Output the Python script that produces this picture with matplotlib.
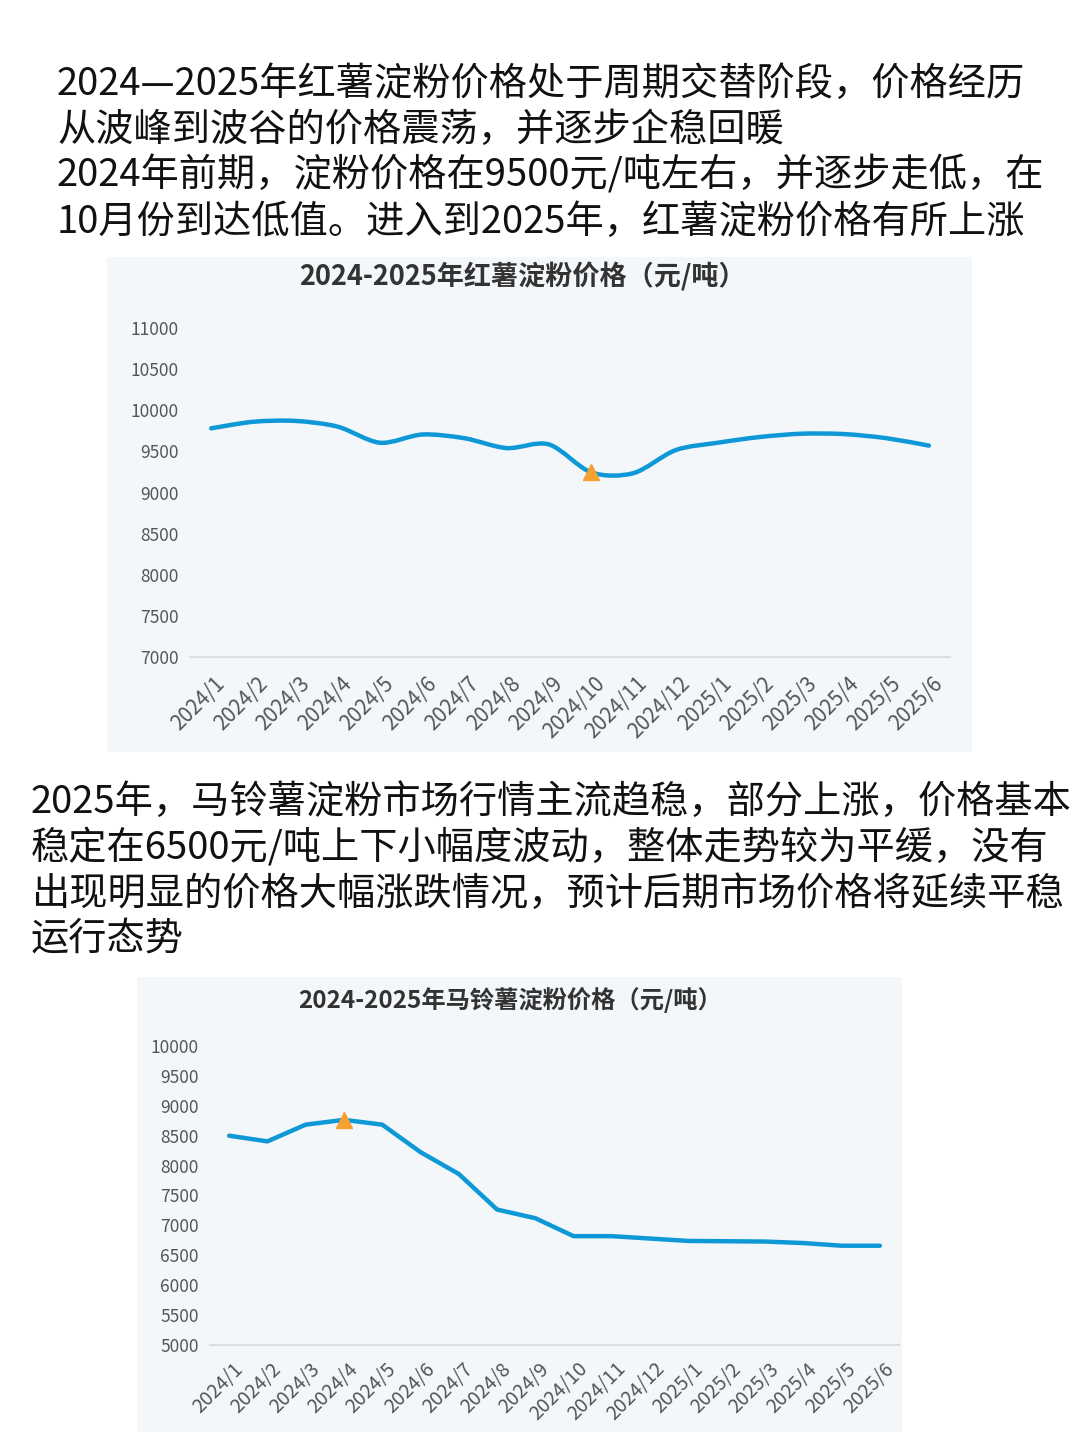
import matplotlib
matplotlib.use('Agg')
import matplotlib.pyplot as plt
import matplotlib.transforms as mtransforms
from matplotlib.path import Path
from matplotlib.patches import PathPatch
import numpy as np

plt.rcParams['font.family'] = ['Noto Sans CJK SC', 'DejaVu Sans']

months = ['2024/1', '2024/2', '2024/3', '2024/4', '2024/5', '2024/6', '2024/7', '2024/8', '2024/9',
          '2024/10', '2024/11', '2024/12', '2025/1', '2025/2', '2025/3', '2025/4', '2025/5', '2025/6']

# 红薯淀粉价格 (元/吨)
sweet_potato = [9780, 9860, 9870, 9800, 9605, 9705, 9660, 9540, 9585,
                9245, 9235, 9515, 9605, 9675, 9715, 9710, 9660, 9570]
sweet_ticks = [7000, 7500, 8000, 8500, 9000, 9500, 10000, 10500, 11000]
sweet_mark = 9  # 2024/10 low point

# 马铃薯淀粉价格 (元/吨)
potato = [8500, 8405, 8685, 8765, 8685, 8225, 7860, 7265, 7120,
          6820, 6820, 6780, 6740, 6735, 6730, 6705, 6660, 6660]
potato_ticks = [5000, 5500, 6000, 6500, 7000, 7500, 8000, 8500, 9000, 9500, 10000]
potato_mark = 3  # 2024/4 high point

para1 = ['2024—2025年红薯淀粉价格处于周期交替阶段，价格经历',
         '从波峰到波谷的价格震荡，并逐步企稳回暖',
         '2024年前期，淀粉价格在9500元/吨左右，并逐步走低，在',
         '10月份到达低值。进入到2025年，红薯淀粉价格有所上涨']
para2 = ['2025年，马铃薯淀粉市场行情主流趋稳，部分上涨，价格基本',
         '稳定在6500元/吨上下小幅度波动，整体走势较为平缓，没有',
         '出现明显的价格大幅涨跌情况，预计后期市场价格将延续平稳',
         '运行态势']

W, H = 1080, 1443
LINE = '#0f98d6'
MARK = '#f5a030'
PANEL = '#f3f7fa'

fig = plt.figure(figsize=(W / 100, H / 100), dpi=100, facecolor='white')


def box(x0, y0, x1, y1):
    # pixel box (top-left origin) -> figure fraction rect
    return [x0 / W, 1 - y1 / H, (x1 - x0) / W, (y1 - y0) / H]


def smooth_path(xs, ys):
    # catmull-rom style bezier through the data points
    xs = np.asarray(xs, float)
    ys = np.asarray(ys, float)
    verts = [(xs[0], ys[0])]
    codes = [Path.MOVETO]
    n = len(xs)
    t = 0.3
    for i in range(n - 1):
        p0 = i - 1 if i > 0 else i
        p3 = i + 2 if i + 2 < n else i + 1
        c1 = (xs[i] + (xs[i + 1] - xs[p0]) * t / 2, ys[i] + (ys[i + 1] - ys[p0]) * t / 2)
        c2 = (xs[i + 1] - (xs[p3] - xs[i]) * t / 2, ys[i + 1] - (ys[p3] - ys[i]) * t / 2)
        verts += [c1, c2, (xs[i + 1], ys[i + 1])]
        codes += [Path.CURVE4] * 3
    return Path(verts, codes)


def draw_chart(panel, plot, title, title_x, title_y, title_size, values, ticks, mark,
               smooth, xsize, xpad):
    bg = fig.add_axes(box(*panel))
    bg.set_facecolor(PANEL)
    bg.set_xticks([])
    bg.set_yticks([])
    for s in bg.spines.values():
        s.set_visible(False)

    fig.text(title_x / W, 1 - title_y / H, title, fontsize=title_size, fontweight='bold',
             color='#333333', ha='center', va='center')

    ax = fig.add_axes(box(*plot))
    ax.patch.set_alpha(0)
    x = np.arange(len(values))
    if smooth:
        ax.add_patch(PathPatch(smooth_path(x, values), fill=False, edgecolor=LINE, lw=3.2,
                               capstyle='round', joinstyle='round', zorder=3))
    else:
        ax.plot(x, values, color=LINE, lw=3.2, solid_joinstyle='round',
                solid_capstyle='round', zorder=3)
    ax.plot(x[mark], values[mark], marker='^', color=MARK, markersize=12, zorder=4,
            linestyle='none')
    ax.set_xlim(-0.5, len(values) - 0.5)
    ax.set_ylim(ticks[0], ticks[-1])
    ax.set_yticks(ticks)
    ax.set_yticklabels([str(t) for t in ticks], fontsize=12.5, color='#555555')
    ax.set_xticks(x)
    ax.set_xticklabels(months, rotation=45, ha='right', va='center', rotation_mode='anchor',
                       fontsize=xsize, color='#555555')
    ax.tick_params(axis='both', length=0)
    ax.tick_params(axis='y', pad=8)
    ax.tick_params(axis='x', pad=xpad)
    # nudge the rotated month labels to the right of their ticks
    shift = mtransforms.ScaledTranslation(0.11, 0, fig.dpi_scale_trans)
    for lab in ax.get_xticklabels():
        lab.set_transform(lab.get_transform() + shift)
    for s in ['top', 'right', 'left']:
        ax.spines[s].set_visible(False)
    ax.spines['bottom'].set_color('#dadde2')
    ax.spines['bottom'].set_linewidth(1.5)


for i, line in enumerate(para1):
    fig.text(57 / W, 1 - (84 + i * 46) / H, line, fontsize=27.5, color='#111111',
             ha='left', va='center')

for i, line in enumerate(para2):
    fig.text(31 / W, 1 - (802 + i * 46) / H, line, fontsize=27.5, color='#111111',
             ha='left', va='center')

draw_chart((107, 257, 972, 752), (190, 328, 950, 657), '2024-2025年红薯淀粉价格（元/吨）',
           522, 276, 19.5, sweet_potato, sweet_ticks, sweet_mark, True, 15, 17)
draw_chart((137, 977, 902, 1432), (210, 1046, 899, 1345), '2024-2025年马铃薯淀粉价格（元/吨）',
           510, 1000, 17.5, potato, potato_ticks, potato_mark, False, 14, 15)

fig.savefig('out.png', dpi=100, facecolor='white')
